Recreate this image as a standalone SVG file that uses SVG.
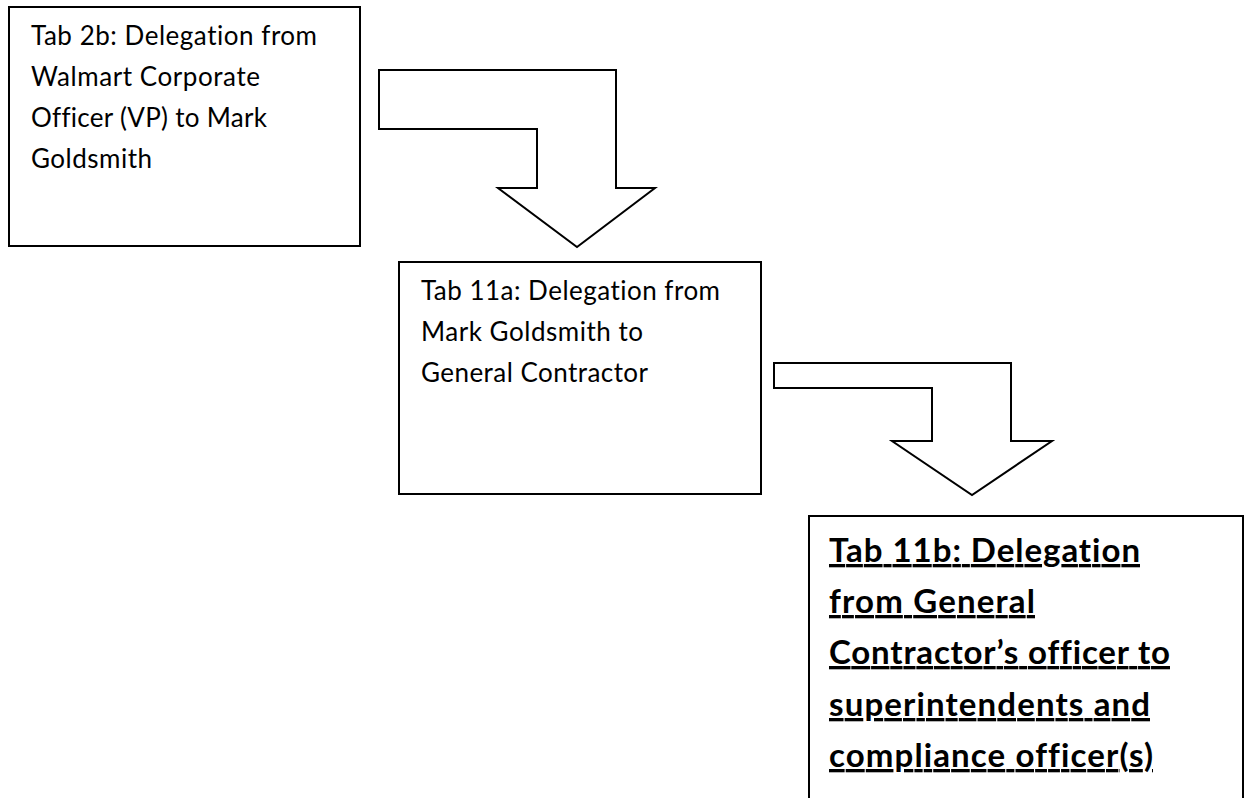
<svg xmlns="http://www.w3.org/2000/svg" width="1244" height="798" viewBox="0 0 1244 798">
<style>
.box{fill:#fff;stroke:#000;stroke-width:2}
.arrow{fill:#fff;stroke:#000;stroke-width:2;stroke-linejoin:miter}
.t{font-family:Lato,"Open Sans",sans-serif;font-size:26px;fill:#000;font-variant-ligatures:none}
.tb{font-family:Lato,"Open Sans",sans-serif;font-size:33px;font-weight:bold;fill:#000;text-decoration:underline;font-variant-ligatures:none}
</style>
<rect width="1244" height="798" fill="#fff"/>
<g id="connectors">
<polygon class="arrow" points="379,70 616,70 616,188 655,188 577,247 498,188 537,188 537,129 379,129"/>
<polygon class="arrow" points="774,363 1011,363 1011,441 1052,441 972,495 892,441 932,441 932,388 774,388"/>
</g>
<g id="node-tab2b">
<rect class="box" x="9" y="7" width="351" height="239"/>
<text class="t" x="31" y="45" textLength="286" lengthAdjust="spacing">Tab 2b: Delegation from</text>
<text class="t" x="31" y="86" textLength="229" lengthAdjust="spacing">Walmart Corporate</text>
<text class="t" x="31" y="127" textLength="236" lengthAdjust="spacing">Officer (VP) to Mark</text>
<text class="t" x="31" y="168" textLength="121" lengthAdjust="spacing">Goldsmith</text>
</g>
<g id="node-tab11a">
<rect class="box" x="399" y="262" width="362" height="232"/>
<text class="t" x="421" y="300" textLength="299" lengthAdjust="spacing">Tab 11a: Delegation from</text>
<text class="t" x="421" y="341" textLength="222" lengthAdjust="spacing">Mark Goldsmith to</text>
<text class="t" x="421" y="382" textLength="227" lengthAdjust="spacing">General Contractor</text>
</g>
<g id="node-tab11b">
<rect class="box" x="809" y="516" width="434" height="300"/>
<text class="tb" x="829" y="562" textLength="311" lengthAdjust="spacing">Tab 11b: Delegation</text>
<text class="tb" x="829" y="613" textLength="206" lengthAdjust="spacing">from General</text>
<text class="tb" x="829" y="664" textLength="341" lengthAdjust="spacing">Contractor’s officer to</text>
<text class="tb" x="829" y="716" textLength="321" lengthAdjust="spacing">superintendents and</text>
<text class="tb" x="829" y="767" textLength="324" lengthAdjust="spacing">compliance officer(s)</text>
</g>
</svg>
